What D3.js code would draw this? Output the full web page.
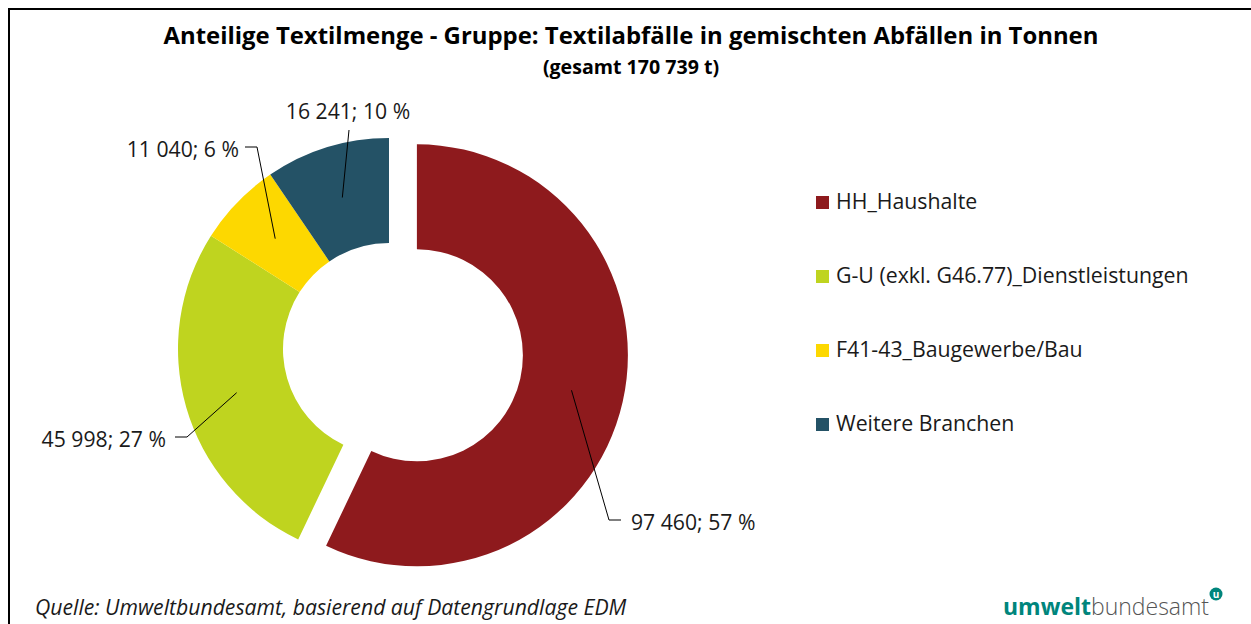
<!DOCTYPE html>
<html><head><meta charset="utf-8">
<script src="https://cdn.jsdelivr.net/npm/d3@7"></script>
<style>
html,body{margin:0;padding:0;background:#fff;overflow:hidden;}
svg{display:block;font-family:"Open Sans",sans-serif;}
</style></head>
<body>
<svg id="chart" width="1251" height="624"></svg>
<script>
const categories = ["HH_Haushalte","G-U (exkl. G46.77)_Dienstleistungen","F41-43_Baugewerbe/Bau","Weitere Branchen"];
const values = [97460, 45998, 11040, 16241];
const percentLabels = ["57 %","27 %","6 %","10 %"];
const valueLabels = ["97 460","45 998","11 040","16 241"];
const colors = ["#8e1a1d","#bfd41f","#fdd800","#245266"];
const titleText = "Anteilige Textilmenge - Gruppe: Textilabfälle in gemischten Abfällen in Tonnen";
const subtitleText = "(gesamt 170 739 t)";
const sourceText = "Quelle: Umweltbundesamt, basierend auf Datengrundlage EDM";

const svg = d3.select("#chart");
svg.append("rect").attr("x",0).attr("y",0).attr("width",1251).attr("height",624).attr("fill","#fff");
svg.append("rect").attr("x",9).attr("y",9).attr("width",1270).attr("height",660)
  .attr("fill","none").attr("stroke","#000").attr("stroke-width",2);

svg.append("text").attr("x",631).attr("y",44).attr("text-anchor","middle")
  .attr("font-weight","bold").attr("font-size",23.9).attr("fill","#000").text(titleText);
svg.append("text").attr("x",631).attr("y",74).attr("text-anchor","middle")
  .attr("font-weight","bold").attr("font-size",19.6).attr("fill","#000").text(subtitleText);

const cx = 389, cy = 349, rOuter = 211, rInner = 106, explode = 28.6;
const pie = d3.pie().sort(null).value(d => d)(values);
const arc = d3.arc().innerRadius(rInner).outerRadius(rOuter);
const g = svg.append("g").attr("transform",`translate(${cx},${cy})`);

function offsetOf(d,i){
  if(i!==0) return [0,0];
  const m=(d.startAngle+d.endAngle)/2;
  return [explode*Math.sin(m), -explode*Math.cos(m)];
}
g.selectAll("path.slice").data(pie).join("path").attr("class","slice")
  .attr("d",arc).attr("fill",(d,i)=>colors[i])
  .attr("transform",(d,i)=>{const o=offsetOf(d,i);return `translate(${o[0]},${o[1]})`;});

// leader lines + labels
const labelSpec = [
  {tx:631, ty:530, anchor:"start", pts:(c)=>[c,[609,520],[621,520]]},
  {tx:166, ty:447, anchor:"end", pts:(c)=>[c,[187,437],[175,437]]},
  {tx:239, ty:157, anchor:"end", pts:(c)=>[c,[257,147],[245,147]]},
  {tx:348, ty:119, anchor:"middle", pts:(c)=>[c,[349,130]]}
];
pie.forEach((d,i)=>{
  const o=offsetOf(d,i);
  const c=arc.centroid(d);
  const cAbs=[cx+c[0]+o[0], cy+c[1]+o[1]];
  const spec=labelSpec[i];
  svg.append("path").attr("d",d3.line()(spec.pts(cAbs)))
    .attr("fill","none").attr("stroke","#000").attr("stroke-width",1);
  svg.append("text").attr("x",spec.tx).attr("y",spec.ty).attr("text-anchor",spec.anchor)
    .attr("font-size",21.2).attr("fill","#1a1a1a").text(valueLabels[i]+"; "+percentLabels[i]);
});

// legend
const lg = svg.append("g");
categories.forEach((c,i)=>{
  const by = 209 + i*74;
  lg.append("rect").attr("x",816).attr("y",by-13).attr("width",13).attr("height",13).attr("fill",colors[i]);
  lg.append("text").attr("x",836).attr("y",by).attr("font-size",21.3).attr("fill","#1a1a1a").text(c);
});

// source
svg.append("text").attr("x",35).attr("y",615).attr("font-style","italic")
  .attr("font-size",21.2).attr("fill","#1a1a1a").text(sourceText);

// logo
const logo = svg.append("text").attr("x",1003).attr("y",615).attr("font-size",23);
logo.append("tspan").attr("font-weight","bold").attr("fill","#00857c").text("umwelt");
logo.append("tspan").attr("font-weight","300").attr("fill","#555").text("bundesamt");
svg.append("circle").attr("cx",1216).attr("cy",594).attr("r",6.5).attr("fill","#00857c");
svg.append("text").attr("x",1216).attr("y",597.5).attr("text-anchor","middle")
  .attr("font-size",10).attr("font-weight","bold").attr("fill","#fff").text("u");
</script>
</body></html>
